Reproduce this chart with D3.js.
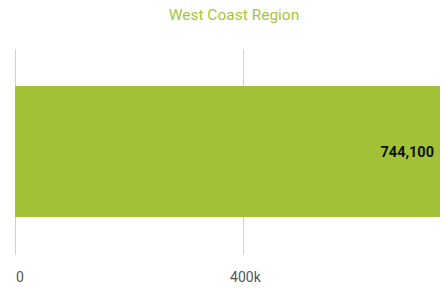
<!DOCTYPE html>
<html><head><meta charset="utf-8">
<script src="https://cdn.jsdelivr.net/npm/d3@7"></script>
<style>body{margin:0;background:#fff}svg{display:block;font-family:Roboto,"Noto Sans",sans-serif}</style>
</head><body><svg id="c" width="446" height="289"></svg>
<script>
const title = "West Coast Region";
const categories = ["West Coast Region"];
const values = [744100];
const tickValues = [0, 400000];
const tickLabels = ["0", "400k"];

const svg = d3.select("#c");
const x = d3.scaleLinear().domain([0, 744100]).range([15, 440]);
const y = d3.scaleBand().domain(categories).range([86, 217]).padding(0);

svg.append("text").attr("x", 234).attr("y", 20).attr("text-anchor", "middle")
  .attr("font-size", 15.5).attr("fill", "#a5c53c").text(title);

const grid = svg.append("g");
grid.selectAll("line").data(tickValues).join("line")
  .attr("x1", d => Math.round(x(d)) + 0.5).attr("x2", d => Math.round(x(d)) + 0.5)
  .attr("y1", 49).attr("y2", 255).attr("stroke", "#cdd0d6").attr("stroke-width", 1);

svg.selectAll("rect.bar").data(values).join("rect").attr("class", "bar")
  .attr("x", x(0)).attr("width", d => x(d) - x(0))
  .attr("y", (d, i) => y(categories[i])).attr("height", y.bandwidth())
  .attr("fill", "#a2c137");

svg.selectAll("text.val").data(values).join("text").attr("class", "val")
  .attr("x", d => x(d) - 6).attr("y", 157)
  .attr("text-anchor", "end").attr("font-size", 14.5).attr("font-weight", "bold")
  .attr("fill", "#111").text(d => d3.format(",")(d));

svg.selectAll("text.tick").data(tickValues).join("text").attr("class", "tick")
  .attr("x", (d, i) => i === 0 ? x(d) + 1 : x(d) + 2).attr("y", 282)
  .attr("text-anchor", (d, i) => i === 0 ? "start" : "middle")
  .attr("font-size", 14).attr("fill", "#555").text((d, i) => tickLabels[i]);
</script></body></html>
